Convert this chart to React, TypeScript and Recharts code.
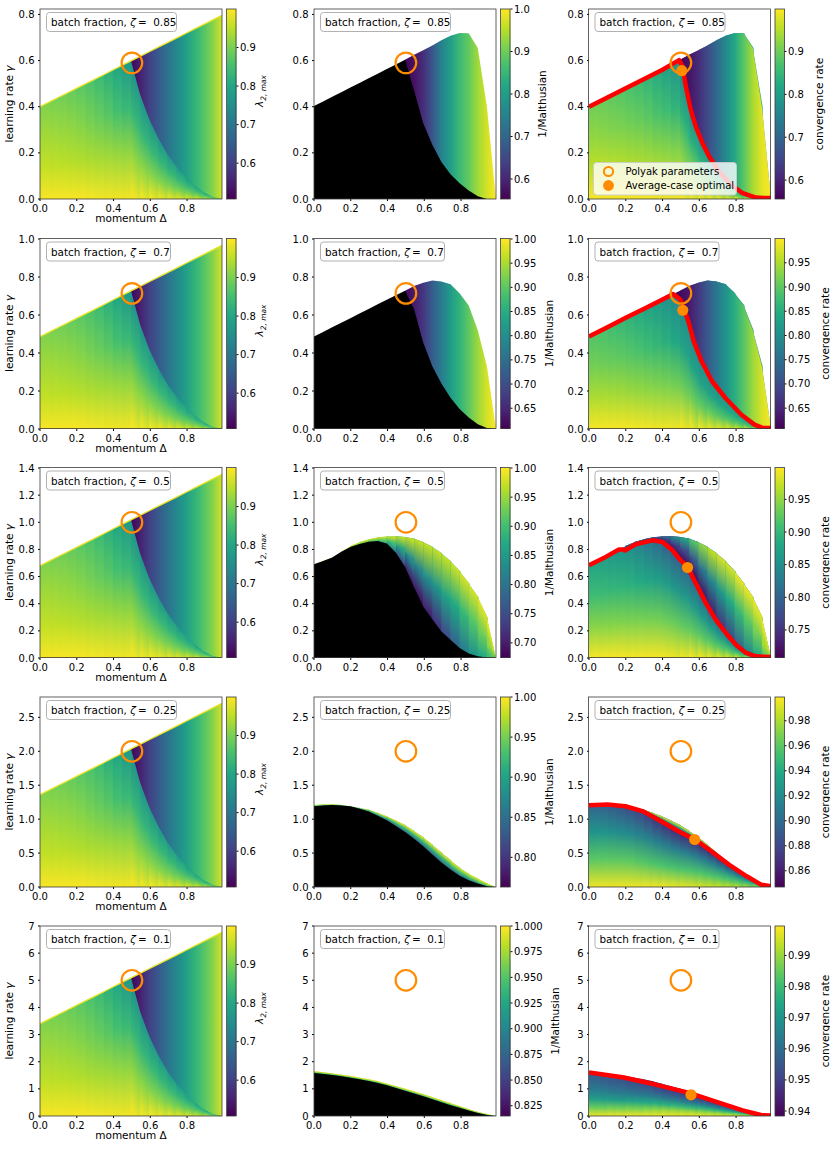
import React from 'react';
import { ComposedChart, Area, Line, Scatter, XAxis, YAxis } from 'recharts';

// ---------- grid / layout data ----------
const EDGES = [0, 0.0495, 0.099, 0.1485, 0.198, 0.2475, 0.297, 0.3465, 0.396, 0.4455, 0.495, 0.5445, 0.594, 0.6435, 0.693, 0.7425, 0.792, 0.8415, 0.891, 0.9405, 0.99];
const XTICKS = [0, 0.2, 0.4, 0.6, 0.8];
const ZETAS = ['0.85', '0.7', '0.5', '0.25', '0.1'];
const YMAX = [0.8235, 1.0, 1.4, 2.8, 7.0];
const YTICKS = [
  [0, 0.2, 0.4, 0.6, 0.8],
  [0, 0.2, 0.4, 0.6, 0.8, 1.0],
  [0, 0.2, 0.4, 0.6, 0.8, 1.0, 1.2, 1.4],
  [0, 0.5, 1.0, 1.5, 2.0, 2.5],
  [0, 1, 2, 3, 4, 5, 6, 7],
];
const YDEC = [1, 1, 1, 1, 0];
const POLYAK = [0.59, 0.714, 1.0, 2.0, 5.0];
const AVG_OPT = [[0.505, 0.556], [0.51, 0.625], [0.536, 0.667], [0.575, 0.70], [0.555, 0.78]];

// ---------- column 1 (lambda_2,max), normalised by row ymax ----------
const C1_TOP = [0.486, 0.510, 0.534, 0.558, 0.582, 0.606, 0.630, 0.654, 0.679, 0.703, 0.727, 0.751, 0.775, 0.799, 0.823, 0.847, 0.871, 0.895, 0.919, 0.943, 0.967];
const C1_CURVE = [0.727, 0.55, 0.42, 0.32, 0.235, 0.17, 0.115, 0.072, 0.035, 0.01, 0.0];
const C1_A = [0.51, 0.55, 0.6, 0.645, 0.69, 0.735, 0.78, 0.825, 0.865, 0.91, 0.97];
const C1_LOW = [
  [0.995, 0.955, 0.93, 0.905], [0.995, 0.953, 0.927, 0.9], [0.995, 0.95, 0.922, 0.893], [0.995, 0.947, 0.916, 0.884],
  [0.995, 0.943, 0.908, 0.873], [0.993, 0.938, 0.897, 0.86], [0.992, 0.933, 0.884, 0.843], [0.99, 0.929, 0.869, 0.822],
  [0.99, 0.924, 0.852, 0.8], [0.99, 0.92, 0.838, 0.772], [0.99, 0.915, 0.83, 0.76], [0.985, 0.91, 0.83, 0.765],
  [0.985, 0.905, 0.83, 0.77], [0.98, 0.9, 0.83, 0.775], [0.975, 0.895, 0.83, 0.78], [0.97, 0.89, 0.83, 0.785],
  [0.96, 0.89, 0.835, 0.79], [0.95, 0.89, 0.84, 0.8], [0.93, 0.89, 0.85, 0.81], [0.91, 0.89, 0.86, 0.83],
];

// ---------- row 1 (zeta 0.85) ----------
const R1_TOP = [0.403, 0.423, 0.443, 0.463, 0.483, 0.503, 0.523, 0.543, 0.563, 0.583, 0.603, 0.625, 0.645, 0.665, 0.688, 0.708, 0.72, 0.718, 0.655, 0.40, 0.0];
const R1_BLACK = [0.403, 0.423, 0.443, 0.463, 0.483, 0.503, 0.523, 0.543, 0.563, 0.583, 0.603, 0.47, 0.328, 0.235, 0.16, 0.107, 0.068, 0.037, 0.012, 0.0, 0.0];
const R1_RED = [0.40, 0.42, 0.44, 0.46, 0.48, 0.50, 0.52, 0.54, 0.56, 0.58, 0.595, 0.422, 0.288, 0.2, 0.136, 0.087, 0.051, 0.023, 0.011, 0.005, 0.004];
const R1_RED_LINE = [[0, 0.40], [0.1, 0.44], [0.2, 0.48], [0.3, 0.52], [0.4, 0.56], [0.49, 0.602], [0.509, 0.574], [0.527, 0.487], [0.554, 0.386], [0.581, 0.313], [0.618, 0.241], [0.654, 0.183], [0.708, 0.118], [0.763, 0.068], [0.836, 0.025], [0.908, 0.006], [0.95, 0.004], [0.99, 0.004]];
const R1C2_H = [0.555, 0.575, 0.61, 0.67, 0.75, 0.80, 0.855, 0.89, 0.935, 0.97, 1.0];
const R1C3_A = [0.56, 0.58, 0.61, 0.655, 0.705, 0.76, 0.82, 0.88, 0.94, 0.98, 0.999];
const R1C3_LOW = [
  [0.995, 0.955, 0.925, 0.9], [0.995, 0.953, 0.92, 0.895], [0.995, 0.95, 0.915, 0.888], [0.995, 0.947, 0.91, 0.88],
  [0.995, 0.943, 0.903, 0.87], [0.993, 0.94, 0.895, 0.858], [0.992, 0.935, 0.885, 0.845], [0.99, 0.93, 0.872, 0.828],
  [0.99, 0.925, 0.86, 0.808], [0.99, 0.92, 0.845, 0.785], [0.99, 0.915, 0.835, 0.77], [0.985, 0.91, 0.833, 0.77],
  [0.985, 0.905, 0.833, 0.775], [0.98, 0.9, 0.833, 0.78], [0.975, 0.895, 0.835, 0.785], [0.97, 0.89, 0.837, 0.79],
  [0.96, 0.89, 0.84, 0.8], [0.95, 0.89, 0.845, 0.81], [0.935, 0.89, 0.855, 0.82], [0.92, 0.89, 0.865, 0.84],
];

// ---------- row 2 (zeta 0.7) ----------
const R2_TOP = [0.487, 0.511, 0.535, 0.559, 0.583, 0.608, 0.632, 0.656, 0.68, 0.704, 0.728, 0.752, 0.77, 0.781, 0.776, 0.762, 0.715, 0.65, 0.52, 0.33, 0.0];
const R2_BLACK = [0.487, 0.511, 0.535, 0.559, 0.583, 0.608, 0.632, 0.656, 0.68, 0.704, 0.728, 0.63, 0.455, 0.33, 0.24, 0.165, 0.105, 0.06, 0.025, 0.005, 0.0];
const R2_RED = [0.485, 0.509, 0.533, 0.557, 0.581, 0.605, 0.629, 0.653, 0.677, 0.701, 0.685, 0.56, 0.40, 0.30, 0.22, 0.163, 0.11, 0.065, 0.028, 0.006, 0.005];
const R2_RED_LINE = [[0, 0.487], [0.1, 0.536], [0.2, 0.585], [0.3, 0.633], [0.4, 0.682], [0.458, 0.71], [0.498, 0.68], [0.541, 0.566], [0.57, 0.46], [0.613, 0.355], [0.67, 0.25], [0.742, 0.163], [0.829, 0.075], [0.9, 0.023], [0.944, 0.006], [0.99, 0.005]];
const R2C2_H = [0.615, 0.635, 0.67, 0.72, 0.77, 0.82, 0.86, 0.90, 0.94, 0.975, 1.0];
const R2C3_A = [0.62, 0.615, 0.635, 0.67, 0.715, 0.76, 0.805, 0.85, 0.895, 0.94, 0.975, 0.999];
const R2C3_LOW = [
  [0.995, 0.95, 0.915, 0.89], [0.995, 0.948, 0.91, 0.885], [0.995, 0.945, 0.905, 0.877], [0.995, 0.942, 0.9, 0.868],
  [0.995, 0.938, 0.893, 0.858], [0.993, 0.934, 0.885, 0.847], [0.992, 0.93, 0.875, 0.835], [0.99, 0.925, 0.865, 0.822],
  [0.99, 0.92, 0.853, 0.808], [0.99, 0.915, 0.84, 0.795], [0.99, 0.91, 0.832, 0.79], [0.985, 0.905, 0.83, 0.79],
  [0.985, 0.9, 0.83, 0.795], [0.98, 0.9, 0.832, 0.8], [0.975, 0.895, 0.835, 0.805], [0.97, 0.89, 0.838, 0.81],
  [0.96, 0.89, 0.842, 0.815], [0.95, 0.89, 0.848, 0.825], [0.935, 0.89, 0.855, 0.835], [0.92, 0.89, 0.865, 0.85],
];

// ---------- row 3 (zeta 0.5) ----------
const R3_TOP = [0.691, 0.714, 0.74, 0.783, 0.825, 0.855, 0.875, 0.889, 0.896, 0.897, 0.892, 0.878, 0.852, 0.818, 0.77, 0.711, 0.638, 0.547, 0.446, 0.296, 0.0];
const R3_BLACK = [0.691, 0.714, 0.74, 0.783, 0.818, 0.84, 0.857, 0.862, 0.843, 0.776, 0.672, 0.522, 0.379, 0.285, 0.196, 0.134, 0.073, 0.033, 0.012, 0.003, 0.0];
const R3_RED = [0.684, 0.712, 0.738, 0.78, 0.8, 0.835, 0.855, 0.866, 0.857, 0.805, 0.725, 0.65, 0.52, 0.39, 0.275, 0.188, 0.108, 0.048, 0.018, 0.009, 0.007];
const R3_RED_LINE = [[0, 0.684], [0.091, 0.745], [0.163, 0.799], [0.185, 0.80], [0.195, 0.792], [0.254, 0.838], [0.345, 0.867], [0.4, 0.855], [0.454, 0.794], [0.49, 0.733], [0.536, 0.672], [0.581, 0.55], [0.636, 0.403], [0.69, 0.281], [0.745, 0.183], [0.799, 0.098], [0.854, 0.037], [0.908, 0.012], [0.99, 0.007]];
const R3C2_V = [
  [0.95, 0.97, 1.0], [0.95, 0.97, 1.0], [0.95, 0.97, 1.0], [0.95, 0.97, 0.99],
  [0.93, 0.96, 0.99], [0.92, 0.95, 0.99], [0.9, 0.94, 0.99], [0.88, 0.93, 0.98],
  [0.82, 0.9, 0.98], [0.75, 0.86, 0.97], [0.7, 0.83, 0.97], [0.69, 0.82, 0.97],
  [0.7, 0.83, 0.97], [0.72, 0.84, 0.97], [0.75, 0.86, 0.97], [0.78, 0.87, 0.975],
  [0.81, 0.89, 0.98], [0.84, 0.91, 0.98], [0.87, 0.93, 0.985], [0.9, 0.95, 0.99],
];
const R3C3_LOW = [
  [0.995, 0.945, 0.905, 0.875], [0.995, 0.944, 0.902, 0.87], [0.995, 0.943, 0.898, 0.864], [0.995, 0.942, 0.894, 0.857],
  [0.995, 0.94, 0.89, 0.85], [0.995, 0.938, 0.883, 0.837], [0.995, 0.936, 0.876, 0.823], [0.995, 0.935, 0.87, 0.81],
  [0.993, 0.932, 0.865, 0.8], [0.99, 0.93, 0.86, 0.795], [0.99, 0.927, 0.86, 0.797], [0.99, 0.925, 0.86, 0.8],
  [0.988, 0.923, 0.861, 0.805], [0.985, 0.922, 0.863, 0.81], [0.98, 0.92, 0.865, 0.815], [0.975, 0.92, 0.868, 0.822],
  [0.97, 0.92, 0.872, 0.83], [0.965, 0.92, 0.877, 0.84], [0.958, 0.92, 0.883, 0.85], [0.95, 0.92, 0.89, 0.86],
];
const R3C3_UP = [
  [0.85, 0.85, 0.85], [0.85, 0.85, 0.85], [0.85, 0.85, 0.85], [0.8, 0.8, 0.82],
  [0.78, 0.78, 0.8], [0.76, 0.77, 0.8], [0.74, 0.76, 0.8], [0.73, 0.75, 0.8],
  [0.72, 0.75, 0.82], [0.71, 0.76, 0.85], [0.71, 0.77, 0.88], [0.71, 0.79, 0.92],
  [0.72, 0.82, 0.95], [0.73, 0.84, 0.97], [0.75, 0.86, 0.98], [0.77, 0.88, 0.98],
  [0.8, 0.9, 0.99], [0.84, 0.92, 0.99], [0.88, 0.94, 0.99], [0.92, 0.96, 0.99],
];

// ---------- row 4 (zeta 0.25) ----------
const R4_TOP = [1.208, 1.215, 1.218, 1.21, 1.19, 1.165, 1.14, 1.09, 1.038, 0.975, 0.91, 0.82, 0.73, 0.62, 0.505, 0.39, 0.28, 0.19, 0.12, 0.05, 0.0];
const R4_BLACK = [1.19, 1.2, 1.208, 1.2, 1.19, 1.155, 1.114, 1.05, 0.985, 0.9, 0.81, 0.71, 0.6, 0.48, 0.36, 0.258, 0.165, 0.1, 0.05, 0.01, 0.0];
const R4_RED = [1.205, 1.212, 1.215, 1.208, 1.19, 1.16, 1.115, 1.04, 0.965, 0.885, 0.81, 0.745, 0.665, 0.57, 0.47, 0.37, 0.275, 0.185, 0.105, 0.03, 0.01];
const R4_RED_LINE = [[0, 1.205], [0.1, 1.215], [0.198, 1.19], [0.295, 1.115], [0.392, 0.968], [0.489, 0.818], [0.577, 0.70], [0.664, 0.53], [0.761, 0.33], [0.858, 0.158], [0.936, 0.035], [0.99, 0.012]];
const R4C2_V = [
  [0.9, 0.95, 0.99], [0.9, 0.95, 0.99], [0.9, 0.95, 0.99], [0.9, 0.95, 0.99],
  [0.89, 0.94, 0.99], [0.88, 0.94, 0.99], [0.87, 0.93, 0.99], [0.86, 0.93, 0.99],
  [0.85, 0.92, 0.99], [0.85, 0.92, 0.99], [0.84, 0.92, 0.99], [0.84, 0.92, 0.99],
  [0.84, 0.92, 0.99], [0.84, 0.92, 0.99], [0.85, 0.92, 0.99], [0.85, 0.93, 0.99],
  [0.86, 0.93, 0.99], [0.87, 0.94, 0.99], [0.89, 0.95, 0.99], [0.91, 0.96, 0.99],
];
const R4C3_LOW = [
  [0.995, 0.96, 0.925, 0.895], [0.995, 0.96, 0.924, 0.893], [0.995, 0.96, 0.922, 0.89], [0.995, 0.96, 0.92, 0.886],
  [0.995, 0.96, 0.918, 0.882], [0.995, 0.958, 0.915, 0.878], [0.995, 0.957, 0.913, 0.874], [0.995, 0.956, 0.911, 0.87],
  [0.995, 0.955, 0.91, 0.867], [0.993, 0.955, 0.91, 0.865], [0.992, 0.955, 0.91, 0.864], [0.99, 0.955, 0.91, 0.864],
  [0.988, 0.955, 0.91, 0.865], [0.986, 0.955, 0.912, 0.866], [0.984, 0.955, 0.914, 0.868], [0.982, 0.955, 0.916, 0.87],
  [0.98, 0.955, 0.918, 0.873], [0.975, 0.955, 0.92, 0.878], [0.97, 0.955, 0.925, 0.885], [0.965, 0.955, 0.93, 0.9],
];
const R4C3_UP = [
  [0.865, 0.93, 0.99], [0.865, 0.93, 0.99], [0.865, 0.93, 0.99], [0.865, 0.93, 0.99],
  [0.865, 0.93, 0.99], [0.865, 0.93, 0.99], [0.865, 0.93, 0.99], [0.865, 0.93, 0.99],
  [0.865, 0.93, 0.99], [0.865, 0.93, 0.99], [0.865, 0.93, 0.99], [0.865, 0.93, 0.99],
  [0.865, 0.93, 0.99], [0.865, 0.93, 0.99], [0.865, 0.93, 0.99], [0.87, 0.93, 0.99],
  [0.875, 0.935, 0.99], [0.88, 0.94, 0.99], [0.89, 0.945, 0.99], [0.9, 0.95, 0.99],
];

// ---------- row 5 (zeta 0.1) ----------
const R5_TOP = [1.65, 1.61, 1.57, 1.52, 1.47, 1.41, 1.35, 1.28, 1.19, 1.1, 1.0, 0.9, 0.8, 0.69, 0.58, 0.47, 0.36, 0.25, 0.15, 0.07, 0.0];
const R5_BLACK = [1.585, 1.55, 1.51, 1.465, 1.41, 1.35, 1.29, 1.22, 1.13, 1.03, 0.93, 0.83, 0.73, 0.62, 0.51, 0.4, 0.3, 0.2, 0.11, 0.04, 0.0];
const R5_RED = [1.6, 1.56, 1.52, 1.47, 1.41, 1.35, 1.28, 1.2, 1.1, 1.0, 0.91, 0.81, 0.71, 0.6, 0.49, 0.38, 0.28, 0.18, 0.1, 0.03, 0.02];
const R5_RED_LINE = [[0, 1.6], [0.182, 1.427], [0.363, 1.158], [0.545, 0.854], [0.727, 0.45], [0.836, 0.207], [0.908, 0.085], [0.945, 0.025], [0.99, 0.02]];
const R5C2_V = [
  [0.93, 0.97, 1.0], [0.93, 0.97, 1.0], [0.93, 0.97, 1.0], [0.93, 0.97, 1.0],
  [0.93, 0.97, 1.0], [0.93, 0.97, 1.0], [0.93, 0.97, 1.0], [0.93, 0.97, 1.0],
  [0.93, 0.97, 1.0], [0.93, 0.97, 1.0], [0.93, 0.97, 1.0], [0.93, 0.97, 1.0],
  [0.93, 0.97, 1.0], [0.93, 0.97, 1.0], [0.93, 0.97, 1.0], [0.93, 0.97, 1.0],
  [0.93, 0.97, 1.0], [0.93, 0.97, 1.0], [0.93, 0.97, 1.0], [0.93, 0.97, 1.0],
];
const R5C3_LOW = [
  [0.998, 0.985, 0.972, 0.964, 0.959, 0.956], [0.998, 0.985, 0.972, 0.964, 0.958, 0.955],
  [0.998, 0.986, 0.972, 0.963, 0.957, 0.954], [0.998, 0.986, 0.972, 0.963, 0.957, 0.953],
  [0.998, 0.987, 0.973, 0.963, 0.956, 0.952], [0.998, 0.987, 0.974, 0.963, 0.956, 0.951],
  [0.998, 0.988, 0.975, 0.964, 0.956, 0.95], [0.998, 0.989, 0.976, 0.964, 0.955, 0.95],
  [0.998, 0.99, 0.977, 0.964, 0.955, 0.949], [0.998, 0.99, 0.978, 0.965, 0.955, 0.949],
  [0.998, 0.99, 0.978, 0.965, 0.955, 0.949], [0.998, 0.99, 0.978, 0.965, 0.955, 0.948],
  [0.997, 0.99, 0.979, 0.966, 0.956, 0.948], [0.997, 0.99, 0.979, 0.967, 0.956, 0.949],
  [0.996, 0.99, 0.98, 0.968, 0.957, 0.95], [0.995, 0.99, 0.98, 0.969, 0.958, 0.951],
  [0.994, 0.989, 0.981, 0.97, 0.96, 0.952], [0.993, 0.988, 0.981, 0.972, 0.962, 0.954],
  [0.992, 0.987, 0.981, 0.973, 0.965, 0.957], [0.99, 0.986, 0.981, 0.975, 0.968, 0.962],
];

// ---------- colorbars ----------
const CB_MIN = [[0.507, 0.553, 0.556], [0.507, 0.607, 0.607], [0.507, 0.674, 0.707], [0.507, 0.763, 0.847], [0.507, 0.815, 0.9384]];
const CB_MAX = [[1.0, 1.0, 0.999], [1.0, 1.0, 0.999], [1.0, 1.0, 0.998], [1.0, 1.0, 0.999], [1.0, 1.0, 0.9995]];
const CB_TICKS = [
  [[0.6, 0.7, 0.8, 0.9], [0.6, 0.7, 0.8, 0.9, 1.0], [0.6, 0.7, 0.8, 0.9]],
  [[0.6, 0.7, 0.8, 0.9], [0.65, 0.7, 0.75, 0.8, 0.85, 0.9, 0.95, 1.0], [0.65, 0.7, 0.75, 0.8, 0.85, 0.9, 0.95]],
  [[0.6, 0.7, 0.8, 0.9], [0.7, 0.75, 0.8, 0.85, 0.9, 0.95, 1.0], [0.75, 0.8, 0.85, 0.9, 0.95]],
  [[0.6, 0.7, 0.8, 0.9], [0.8, 0.85, 0.9, 0.95, 1.0], [0.86, 0.88, 0.9, 0.92, 0.94, 0.96, 0.98]],
  [[0.6, 0.7, 0.8, 0.9], [0.825, 0.85, 0.875, 0.9, 0.925, 0.95, 0.975, 1.0], [0.94, 0.95, 0.96, 0.97, 0.98, 0.99]],
];
const CB_DEC = [[1, 1, 1], [1, 2, 2], [1, 2, 2], [1, 2, 2], [1, 3, 2]];

// ---------- styling / layout constants ----------
const VIRIDIS = ['#440154', '#482475', '#414487', '#355f8d', '#2a788e', '#21918c', '#22a884', '#44bf70', '#7ad151', '#bddf26', '#fde725'];
const PLOT_LEFT = [40, 314, 588.5];
const PLOT_TOP = [9, 238.5, 467.5, 697, 926];
const PW = 182;
const PH = 190;
const CBW = 9.5;
const YAW = 40;
const MT = 8;
const MR = 4;
const XAH = 18;
const FONT = 'DejaVu Sans';
const ORANGE = '#ff8c00';
const TICK_STYLE = { fontSize: 10, fill: '#000', fontFamily: FONT };

const VIR_RGB = VIRIDIS.map((h) => [parseInt(h.slice(1, 3), 16), parseInt(h.slice(3, 5), 16), parseInt(h.slice(5, 7), 16)]);
function viridis(t: number) {
  const c = Math.max(0, Math.min(1, t)) * 10;
  const i = Math.min(9, Math.floor(c));
  const f = c - i;
  const a = VIR_RGB[i];
  const b = VIR_RGB[i + 1];
  const r = a.map((v, k) => Math.round(v + (b[k] - v) * f));
  return `rgb(${r[0]},${r[1]},${r[2]})`;
}

const ZEROS = EDGES.map(() => 0);
const TOPS = [R1_TOP, R2_TOP, R3_TOP, R4_TOP, R5_TOP];
const BLACKS = [R1_BLACK, R2_BLACK, R3_BLACK, R4_BLACK, R5_BLACK];
const REDS = [R1_RED, R2_RED, R3_RED, R4_RED, R5_RED];
const RED_LINES = [R1_RED_LINE, R2_RED_LINE, R3_RED_LINE, R4_RED_LINE, R5_RED_LINE];

type Layer =
  | { kind: 'solid'; lo: number[]; hi: number[]; color: string }
  | { kind: 'h'; from: number; lo: number[]; hi: number[]; vals: number[] }
  | { kind: 'v'; lo: number[]; hi: number[]; pLo?: number[]; pHi?: number[]; vals: number[][]; split?: boolean };

function getLayers(row: number, col: number): Layer[] {
  if (col === 0) {
    const s = YMAX[row];
    const top = C1_TOP.map((u) => u * s);
    const curve = EDGES.map((_, i) => (i < 10 ? top[i] : C1_CURVE[i - 10] * s));
    return [
      { kind: 'v', lo: ZEROS, hi: curve, pHi: top, vals: C1_LOW },
      { kind: 'h', from: 10, lo: curve, hi: top, vals: C1_A },
    ];
  }
  const top = TOPS[row];
  const black = BLACKS[row];
  const red = REDS[row];
  if (col === 1) {
    const blackLayer: Layer = { kind: 'solid', lo: ZEROS, hi: black, color: '#000' };
    if (row === 0) return [{ kind: 'h', from: 10, lo: ZEROS, hi: top, vals: R1C2_H }, blackLayer];
    if (row === 1) return [{ kind: 'h', from: 10, lo: ZEROS, hi: top, vals: R2C2_H }, blackLayer];
    const v = [null, null, R3C2_V, R4C2_V, R5C2_V][row] as number[][];
    return [{ kind: 'v', lo: black, hi: top, pLo: ZEROS, vals: v, split: true }, blackLayer];
  }
  const low = [R1C3_LOW, R2C3_LOW, R3C3_LOW, R4C3_LOW, R5C3_LOW][row];
  const layers: Layer[] = [{ kind: 'v', lo: ZEROS, hi: red, pHi: top, vals: low }];
  if (row === 0) layers.push({ kind: 'h', from: 10, lo: red, hi: top, vals: R1C3_A });
  if (row === 1) layers.push({ kind: 'h', from: 9, lo: red, hi: top, vals: R2C3_A });
  if (row === 2) layers.push({ kind: 'v', lo: red, hi: top, vals: R3C3_UP, split: true });
  if (row === 3) layers.push({ kind: 'v', lo: red, hi: top, vals: R4C3_UP, split: true });
  return layers;
}

const areaCommon = {
  type: 'linear' as const,
  dataKey: 'r',
  fillOpacity: 1,
  stroke: 'none',
  isAnimationActive: false,
  dot: false,
  activeDot: false,
};

function Ring(props: any) {
  const { cx, cy } = props;
  if (cx == null || cy == null) return null;
  return <circle cx={cx} cy={cy} r={10.3} fill="none" stroke={ORANGE} strokeWidth={2.2} />;
}
function Dot(props: any) {
  const { cx, cy } = props;
  if (cx == null || cy == null) return null;
  return <circle cx={cx} cy={cy} r={5.6} fill={ORANGE} stroke="none" />;
}

// one strip piece: polygon [bL..tL] at left edge, [bR..tR] at right edge;
// gradient runs from line "up" (first stop) to line "dn" (last stop), each line given at both edges.
function stripPiece(
  sid: string, i: number, bL: number, bR: number, tL: number, tR: number,
  upL: number, upR: number, dnL: number, dnR: number, stops: string[],
  defs: React.ReactElement[], items: React.ReactElement[]
) {
  const bTop = Math.max(tL, tR);
  const bBot = Math.min(bL, bR);
  if (bTop - bBot < 1e-6) return;
  const ov = i < EDGES.length - 2 ? 0.004 : 0;
  const xR = (EDGES[i + 1] - EDGES[i]) / (EDGES[i + 1] + ov - EDGES[i]);
  const fy = (v: number) => (bTop - v) / (bTop - bBot);
  const sUp = (fy(upR) - fy(upL)) / xR;
  const sDn = (fy(dnR) - fy(dnL)) / xR;
  const s = (sUp + sDn) / 2;
  const c = xR / 2;
  const yU = (fy(upL) + fy(upR)) / 2;
  const yD = (fy(dnL) + fy(dnR)) / 2;
  const lam = Math.max(1e-4, (yD - yU) / (1 + s * s));
  const K = stops.length;
  defs.push(
    <linearGradient key={sid} id={sid} x1={c} y1={yU} x2={c - s * lam} y2={yU + lam}>
      {stops.map((col, k) => (
        <stop key={k} offset={K === 1 ? 0 : k / (K - 1)} stopColor={col} />
      ))}
    </linearGradient>
  );
  items.push(
    <Area
      key={sid}
      {...areaCommon}
      fill={`url(#${sid})`}
      data={[
        { x: EDGES[i], r: [bL, tL] },
        { x: EDGES[i + 1] + ov, r: [bR, tR] },
      ]}
    />
  );
}

function Panel({ row, col }: { row: number; col: number }) {
  const ymax = YMAX[row];
  const left = PLOT_LEFT[col];
  const top = PLOT_TOP[row];
  const cmin = CB_MIN[row][col];
  const cmax = CB_MAX[row][col];
  const cmap = (v: number) => viridis((v - cmin) / (cmax - cmin));
  const layers = getLayers(row, col);
  const defs: React.ReactElement[] = [];
  const items: React.ReactElement[] = [];
  layers.forEach((L, li) => {
    const id = `p${row}${col}l${li}`;
    if (L.kind === 'solid') {
      items.push(
        <Area key={id} {...areaCommon} fill={L.color} data={EDGES.map((x, i) => ({ x, r: [L.lo[i], L.hi[i]] }))} />
      );
    } else if (L.kind === 'h') {
      const xs = EDGES.slice(L.from);
      const x0 = xs[0];
      const x1 = xs[xs.length - 1];
      defs.push(
        <linearGradient key={id} id={id} x1="0" y1="0" x2="1" y2="0">
          {L.vals.map((v, k) => (
            <stop key={k} offset={(xs[k] - x0) / (x1 - x0)} stopColor={cmap(v)} />
          ))}
        </linearGradient>
      );
      items.push(
        <Area key={id} {...areaCommon} fill={`url(#${id})`} data={xs.map((x, k) => ({ x, r: [L.lo[L.from + k], L.hi[L.from + k]] }))} />
      );
    } else {
      const pLo = L.pLo ?? L.lo;
      const pHi = L.pHi ?? L.hi;
      for (let i = 0; i < EDGES.length - 1; i++) {
        const vals = L.vals[i];
        const K = vals.length;
        if (!L.split) {
          stripPiece(`${id}s${i}`, i, pLo[i], pLo[i + 1], pHi[i], pHi[i + 1],
            L.hi[i], L.hi[i + 1], L.lo[i], L.lo[i + 1],
            vals.map((_, k) => cmap(vals[K - 1 - k])), defs, items);
        } else {
          // the band is split into sub-bands between level lines for smoother shading
          const lev = (j: number, e: number) => L.lo[e] + ((L.hi[e] - L.lo[e]) * j) / (K - 1);
          for (let j = 0; j < K - 1; j++) {
            const bL = j === 0 ? pLo[i] : lev(j, i);
            const bR = j === 0 ? pLo[i + 1] : lev(j, i + 1);
            stripPiece(`${id}s${i}b${j}`, i, bL, bR, pHi[i], pHi[i + 1],
              lev(j + 1, i), lev(j + 1, i + 1), lev(j, i), lev(j, i + 1),
              [cmap(vals[j + 1]), cmap(vals[j])], defs, items);
          }
        }
      }
    }
  });

  return (
    <div style={{ position: 'absolute', left: left - YAW, top: top - MT }}>
      <svg width={0} height={0} style={{ position: 'absolute' }}>
        <defs>{defs}</defs>
      </svg>
      <ComposedChart width={YAW + PW + MR} height={MT + PH + XAH} margin={{ top: MT, right: MR, bottom: 0, left: 0 }}>
        <XAxis
          type="number"
          dataKey="x"
          domain={[0, 0.99]}
          allowDataOverflow
          ticks={XTICKS}
          interval={0}
          tickFormatter={(v: number) => v.toFixed(1)}
          height={XAH}
          axisLine={false}
          tickSize={2}
          tickMargin={4}
          tick={TICK_STYLE}
          tickLine={{ stroke: '#000' }}
        />
        <YAxis
          type="number"
          domain={[0, ymax]}
          allowDataOverflow
          ticks={YTICKS[row]}
          interval={0}
          tickFormatter={(v: number) => v.toFixed(YDEC[row])}
          width={YAW}
          axisLine={false}
          tickSize={2}
          tickMargin={3.5}
          tick={TICK_STYLE}
          tickLine={{ stroke: '#000' }}
        />
        {items}
        {col === 0 && (
          <Line
            type="linear"
            data={EDGES.map((x, i) => ({ x, y: C1_TOP[i] * ymax }))}
            dataKey="y"
            stroke={viridis(0.97)}
            strokeWidth={1.3}
            dot={false}
            activeDot={false}
            isAnimationActive={false}
          />
        )}
        {col === 2 && (
          <Line
            type="linear"
            data={RED_LINES[row].map(([x, y]) => ({ x, y }))}
            dataKey="y"
            stroke="#ff0000"
            strokeWidth={4.5}
            strokeLinejoin="round"
            dot={false}
            activeDot={false}
            isAnimationActive={false}
          />
        )}
        <Scatter data={[{ x: 0.5, y: POLYAK[row] }]} dataKey="y" shape={Ring} isAnimationActive={false} />
        {col === 2 && (
          <Scatter data={[{ x: AVG_OPT[row][0], y: AVG_OPT[row][1] }]} dataKey="y" shape={Dot} isAnimationActive={false} />
        )}
      </ComposedChart>
    </div>
  );
}

function ColorBar({ row, col }: { row: number; col: number }) {
  const cbLeft = PLOT_LEFT[col] + PW + 4.5;
  const cmin = CB_MIN[row][col];
  const cmax = CB_MAX[row][col];
  const dec = CB_DEC[row][col];
  return (
    <div style={{ position: 'absolute', left: cbLeft, top: PLOT_TOP[row] - MT }}>
      <ComposedChart width={CBW + 50} height={MT + PH + 8} margin={{ top: MT, right: 0, bottom: 8, left: 0 }}>
        <XAxis type="number" dataKey="x" domain={[0, 1]} hide />
        <YAxis
          type="number"
          orientation="right"
          domain={[cmin, cmax]}
          allowDataOverflow
          ticks={CB_TICKS[row][col]}
          interval={0}
          tickFormatter={(v: number) => v.toFixed(dec)}
          width={50}
          axisLine={false}
          tickSize={2}
          tickMargin={1.5}
          tick={TICK_STYLE}
          tickLine={{ stroke: '#000' }}
        />
        <Area
          {...areaCommon}
          fill="url(#cbgrad)"
          data={[
            { x: 0, r: [cmin, cmax] },
            { x: 1, r: [cmin, cmax] },
          ]}
        />
      </ComposedChart>
    </div>
  );
}

function tickWidth(row: number, col: number) {
  const dec = CB_DEC[row][col];
  const s = CB_TICKS[row][col][0].toFixed(dec);
  let w = 0;
  for (const ch of s) w += ch === '.' ? 3.18 : 6.36;
  return w;
}

function Overlay() {
  const els: React.ReactElement[] = [];
  for (let row = 0; row < 5; row++) {
    for (let col = 0; col < 3; col++) {
      const x = PLOT_LEFT[col];
      const y = PLOT_TOP[row];
      const cbLeft = x + PW + 4.5;
      const k = `${row}-${col}`;
      els.push(<rect key={`f${k}`} x={x} y={y} width={PW} height={PH} fill="none" stroke="#3a3a3a" strokeWidth={0.8} />);
      els.push(<rect key={`cf${k}`} x={cbLeft} y={y} width={CBW} height={PH} fill="none" stroke="#3a3a3a" strokeWidth={0.8} />);
      const bw = ZETAS[row].length === 4 ? 130 : 124;
      els.push(<rect key={`b${k}`} x={x + 6.5} y={y + 3.5} width={bw} height={19} rx={3} fill="#fff" stroke="#a8a8a8" strokeWidth={0.9} />);
      els.push(
        <text key={`bt${k}`} x={x + 11} y={y + 17.2} fontSize={10.4} fill="#000">
          {'batch fraction, '}
          <tspan fontStyle="italic">ζ</tspan>
          {'\u2009=\u00a0 '}
          {ZETAS[row]}
        </text>
      );
      const cy = y + PH / 2;
      if (col === 0) {
        const bx = cbLeft + CBW + 3.5 + tickWidth(row, col) + 8;
        els.push(
          <text key={`cl${k}`} x={bx} y={cy - 13} fontSize={10.5} textAnchor="middle" transform={`rotate(-90 ${bx} ${cy - 13})`}>
            <tspan fontStyle="italic">λ</tspan>
            <tspan fontStyle="italic" fontSize={7.5} dy={2.5}>2, max</tspan>
          </text>
        );
      } else {
        const bx = cbLeft + CBW + 3.5 + tickWidth(row, col) + (col === 1 ? 17 : 19);
        const label = col === 1 ? '1/Malthusian' : 'convergence rate';
        els.push(
          <text key={`cl${k}`} x={bx} y={cy} fontSize={10.5} textAnchor="middle" transform={`rotate(-90 ${bx} ${cy})`}>
            {label}
          </text>
        );
      }
    }
    const y = PLOT_TOP[row];
    els.push(
      <text key={`yl${row}`} x={13} y={y + PH / 2} fontSize={10.5} textAnchor="middle" transform={`rotate(-90 13 ${y + PH / 2})`}>
        {'learning rate '}
        <tspan fontStyle="italic">γ</tspan>
      </text>
    );
    els.push(
      <text key={`xl${row}`} x={PLOT_LEFT[0] + PW / 2} y={y + PH + 23} fontSize={10.5} textAnchor="middle">
        momentum Δ
      </text>
    );
  }
  // legend in the top-right panel
  const lx = PLOT_LEFT[2];
  const ly = PLOT_TOP[0];
  els.push(<rect key="lg" x={lx + 5} y={ly + 153.5} width={143} height={32.5} rx={3} fill="#fff" fillOpacity={0.8} stroke="#cccccc" strokeWidth={0.9} />);
  els.push(<circle key="lg1" cx={lx + 20} cy={ly + 162.5} r={4.6} fill="none" stroke={ORANGE} strokeWidth={2} />);
  els.push(<circle key="lg2" cx={lx + 20} cy={ly + 176.5} r={5.4} fill={ORANGE} />);
  els.push(<text key="lg1t" x={lx + 37} y={ly + 166} fontSize={10}>Polyak parameters</text>);
  els.push(<text key="lg2t" x={lx + 37} y={ly + 180} fontSize={10}>Average-case optimal</text>);
  return (
    <svg width={830} height={1150} style={{ position: 'absolute', left: 0, top: 0, pointerEvents: 'none' }} fontFamily={FONT}>
      {els}
    </svg>
  );
}

export default function App() {
  const panels: React.ReactElement[] = [];
  for (let row = 0; row < 5; row++) {
    for (let col = 0; col < 3; col++) {
      panels.push(<Panel key={`p${row}${col}`} row={row} col={col} />);
      panels.push(<ColorBar key={`c${row}${col}`} row={row} col={col} />);
    }
  }
  return (
    <div style={{ position: 'absolute', left: 0, top: 0, width: 830, height: 1150, background: '#fff', fontFamily: FONT, overflow: 'hidden' }}>
      <svg width={0} height={0} style={{ position: 'absolute' }}>
        <defs>
          <linearGradient id="cbgrad" x1="0" y1="0" x2="0" y2="1">
            {VIRIDIS.map((_, k) => (
              <stop key={k} offset={k / 10} stopColor={VIRIDIS[10 - k]} />
            ))}
          </linearGradient>
        </defs>
      </svg>
      {panels}
      <Overlay />
    </div>
  );
}
